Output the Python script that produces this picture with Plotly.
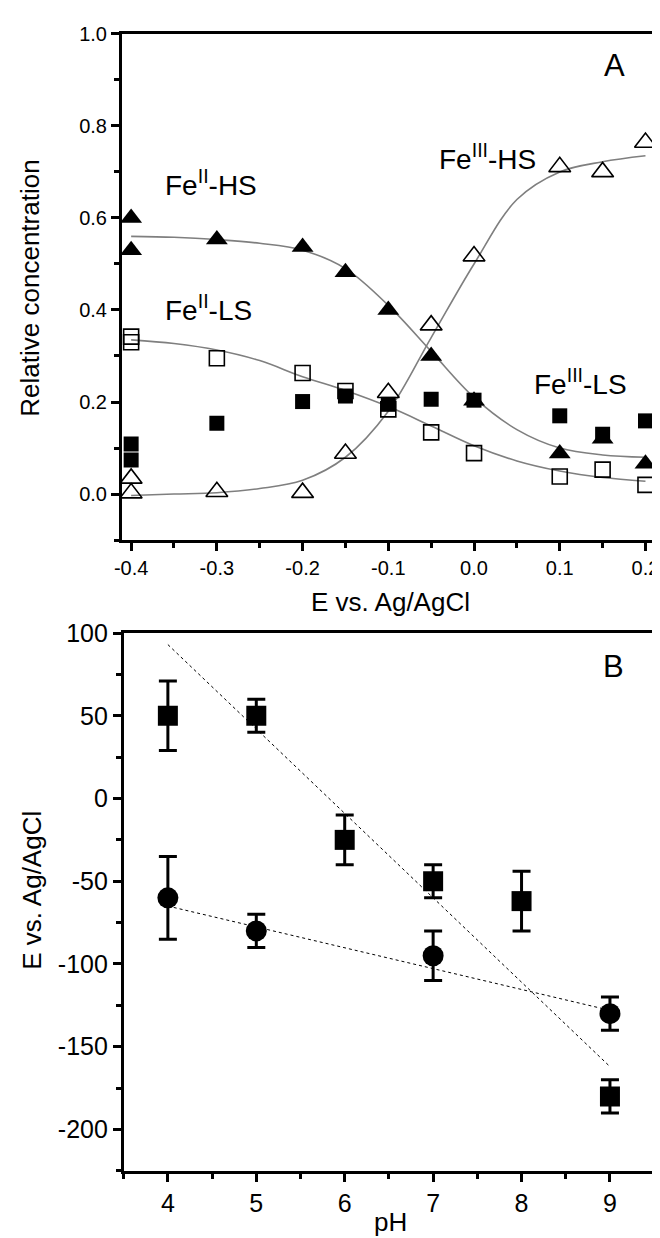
import plotly.graph_objects as go

# ---------------- Panel A data ----------------
E_pts = [-0.4, -0.4, -0.3, -0.2, -0.15, -0.1, -0.05, 0.0, 0.1, 0.15, 0.2]
fe2_hs = [0.60, 0.53, 0.553, 0.537, 0.482, 0.40, 0.30, 0.203, 0.088, 0.12, 0.066]
fe2_ls = [0.342, 0.33, 0.295, 0.263, 0.224, 0.184, 0.134, 0.089, 0.038, 0.053, 0.02]
fe3_hs = [0.002, 0.034, 0.005, 0.003, 0.088, 0.22, 0.367, 0.517, 0.711, 0.70, 0.764]
fe3_ls = [0.109, 0.074, 0.154, 0.201, 0.213, 0.195, 0.206, 0.204, 0.17, 0.13, 0.159]

E_fit = [-0.4, -0.35, -0.3, -0.25, -0.2, -0.15, -0.1, -0.05, 0.0, 0.05, 0.1, 0.15, 0.2]
fit_fe2_hs = [0.56, 0.558, 0.553, 0.545, 0.53, 0.49, 0.41, 0.31, 0.21, 0.14, 0.10, 0.085, 0.08]
fit_fe2_ls = [0.335, 0.327, 0.313, 0.29, 0.255, 0.225, 0.19, 0.148, 0.105, 0.072, 0.05, 0.036, 0.028]
fit_fe3_hs = [-0.003, 0.0, 0.003, 0.012, 0.03, 0.08, 0.18, 0.34, 0.50, 0.64, 0.70, 0.722, 0.735]

A_xticks = [-0.4, -0.3, -0.2, -0.1, 0.0, 0.1, 0.2]
A_xlabels = ["-0.4", "-0.3", "-0.2", "-0.1", "0.0", "0.1", "0.2"]
A_yticks = [0.0, 0.2, 0.4, 0.6, 0.8, 1.0]
A_ylabels = ["0.0", "0.2", "0.4", "0.6", "0.8", "1.0"]

# ---------------- Panel B data ----------------
pH_sq = [4, 5, 6, 7, 8, 9]
E_sq = [50, 50, -25, -50, -62, -180]
err_sq = [21, 10, 15, 10, 18, 10]
pH_ci = [4, 5, 7, 9]
E_ci = [-60, -80, -95, -130]
err_ci = [25, 10, 15, 10]
fit_sq_x = [4, 9]
fit_sq_y = [93, -162]
fit_ci_x = [4, 9]
fit_ci_y = [-65, -128]

B_xticks = [4, 5, 6, 7, 8, 9]
B_yticks = [-200, -150, -100, -50, 0, 50, 100]
B_ylabels = ["-200", "-150", "-100", "-50", "0", "50", "100"]

FONT = "Arial"
GREY = "#7f7f7f"
W, H = 660, 1238

fig = go.Figure()

# Panel A fit curves
for yy in (fit_fe2_hs, fit_fe2_ls, fit_fe3_hs):
    fig.add_trace(go.Scatter(x=E_fit, y=yy, mode="lines", line=dict(color=GREY, width=1.6, shape="spline"),
                             xaxis="x", yaxis="y", showlegend=False, hoverinfo="skip"))

mk_line = dict(color="black", width=1.6)
fig.add_trace(go.Scatter(x=E_pts, y=fe3_ls, mode="markers", xaxis="x", yaxis="y", showlegend=False,
                         marker=dict(symbol="square", size=15, color="black", line=dict(width=0))))
fig.add_trace(go.Scatter(x=E_pts, y=fe2_ls, mode="markers", xaxis="x", yaxis="y", showlegend=False,
                         marker=dict(symbol="square-open", size=15, color="black", line=mk_line)))
fig.add_trace(go.Scatter(x=E_pts, y=fe2_hs, mode="markers", xaxis="x", yaxis="y", showlegend=False,
                         marker=dict(symbol="triangle-up", size=19, color="black", line=dict(width=0))))
fig.add_trace(go.Scatter(x=E_pts, y=fe3_hs, mode="markers", xaxis="x", yaxis="y", showlegend=False,
                         marker=dict(symbol="triangle-up-open", size=19, color="black", line=mk_line)))

# Panel B
fig.add_trace(go.Scatter(x=fit_sq_x, y=fit_sq_y, mode="lines", xaxis="x2", yaxis="y2", showlegend=False,
                         line=dict(color="black", width=1, dash="dot")))
fig.add_trace(go.Scatter(x=fit_ci_x, y=fit_ci_y, mode="lines", xaxis="x2", yaxis="y2", showlegend=False,
                         line=dict(color="black", width=1, dash="dot")))
fig.add_trace(go.Scatter(x=pH_sq, y=E_sq, mode="markers", xaxis="x2", yaxis="y2", showlegend=False,
                         marker=dict(symbol="square", size=20, color="black"),
                         error_y=dict(type="data", array=err_sq, arrayminus=err_sq,
                                      color="black", thickness=3, width=9)))
fig.add_trace(go.Scatter(x=pH_ci, y=E_ci, mode="markers", xaxis="x2", yaxis="y2", showlegend=False,
                         marker=dict(symbol="circle", size=21, color="black"),
                         error_y=dict(type="data", array=err_ci, arrayminus=err_ci,
                                      color="black", thickness=3, width=9)))

axis_common = dict(showline=True, linecolor="black", linewidth=2.5, mirror=True, ticks="outside",
                   tickwidth=2.5, ticklen=8, tickcolor="black", showgrid=False, zeroline=False)

def minor(dt):
    return dict(ticks="outside", dtick=dt, tick0=0, ticklen=5, tickwidth=2.5, tickcolor="black")

fig.update_layout(
    width=W, height=H, plot_bgcolor="white", paper_bgcolor="white",
    margin=dict(l=0, r=0, t=0, b=0), font=dict(family=FONT, color="black", size=20),
    xaxis=dict(**axis_common, domain=[108 / W, 651 / W], anchor="y", range=[-0.411, 0.209],
               tickmode="array", tickvals=A_xticks, ticktext=A_xlabels,
               tickfont=dict(size=20, family=FONT, color="black"), minor=minor(0.05)),
    yaxis=dict(**axis_common, domain=[1 - 524 / H, 1 - 12 / H], anchor="x", range=[-0.1, 1.0],
               tickmode="array", tickvals=A_yticks, ticktext=A_ylabels,
               tickfont=dict(size=20, family=FONT, color="black"), minor=minor(0.1)),
    xaxis2=dict(**axis_common, domain=[110 / W, 652 / W], anchor="y2", range=[3.5, 9.5],
                tickmode="array", tickvals=B_xticks, ticktext=[str(v) for v in B_xticks],
                tickfont=dict(size=25, family=FONT, color="black"), minor=minor(0.5)),
    yaxis2=dict(**axis_common, domain=[1 - 1162 / H, 1 - 618 / H], anchor="x2", range=[-225, 100],
                tickmode="array", tickvals=B_yticks, ticktext=B_ylabels,
                tickfont=dict(size=25, family=FONT, color="black"), minor=minor(25)),
)

def ann(text, px, py, size, angle=0, xanchor="center"):
    fig.add_annotation(text=text, x=px / W, y=1 - py / H, xref="paper", yref="paper",
                       showarrow=False, font=dict(size=size, family=FONT, color="black"),
                       textangle=angle, xanchor=xanchor, yanchor="middle")

ann("A", 611, 44, 31)
ann("B", 610, 652, 31)
ann("Fe<sup>II</sup>-HS", 150, 163, 28, xanchor="left")
ann("Fe<sup>III</sup>-HS", 430, 137, 28, xanchor="left")
ann("Fe<sup>II</sup>-LS", 150, 289, 28, xanchor="left")
ann("Fe<sup>III</sup>-LS", 527, 364, 28, xanchor="left")
ann("Relative concentration", 14, 269, 26, angle=-90)
ann("E vs. Ag/AgCl", 383, 587, 26)
ann("E vs. Ag/AgCl", 16, 878, 26, angle=-90)
ann("pH", 383, 1214, 26)

fig.write_html("out.html")
